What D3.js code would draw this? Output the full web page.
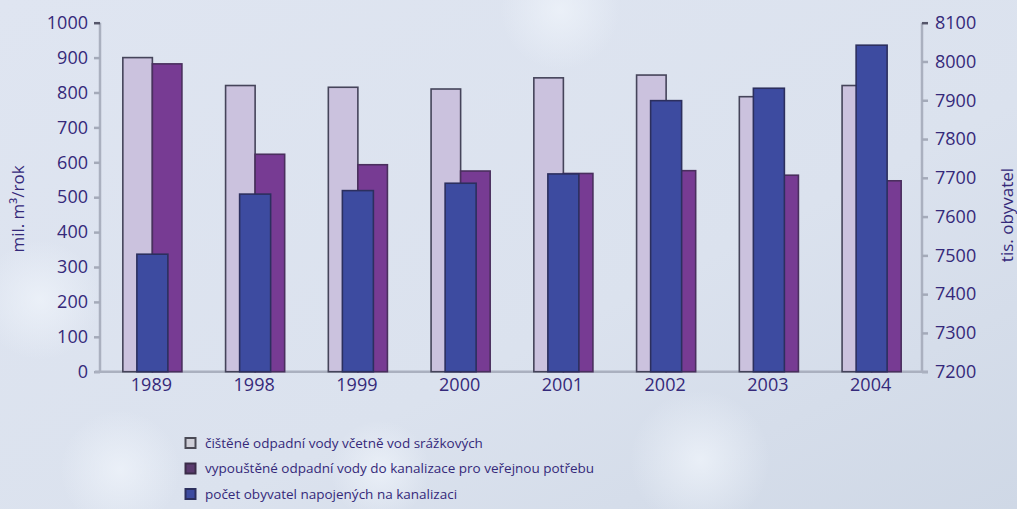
<!DOCTYPE html>
<html><head><meta charset="utf-8">
<script src="https://cdn.jsdelivr.net/npm/d3@7"></script>
<style>
html,body{margin:0;padding:0;overflow:hidden;}
svg{display:block;}
text{font-family:"Open Sans","DejaVu Sans",sans-serif;fill:#35297a;}
</style></head>
<body><svg id="c" width="1017" height="509"></svg>
<script>
const years = ["1989","1998","1999","2000","2001","2002","2003","2004"];
const cisteneVody = [900, 820, 815, 810, 842, 850, 788, 820];
const vypousteneVody = [882, 623, 593, 575, 568, 576, 563, 547];
const obyvatele = [7503, 7658, 7667, 7686, 7710, 7899, 7931, 8042];
const leftTicks = [0,100,200,300,400,500,600,700,800,900,1000];
const rightTicks = [7200,7300,7400,7500,7600,7700,7800,7900,8000,8100];
const legendLabels = [
  "čištěné odpadní vody včetně vod srážkových",
  "vypouštěné odpadní vody do kanalizace pro veřejnou potřebu",
  "počet obyvatel napojených na kanalizaci"
];
const colors = {light:"#cbc2de", purple:"#773b93", blue:"#3d4ba0", stroke:"#45445a"};

const svg = d3.select("#c");
// background
const defs = svg.append("defs");
const lg = defs.append("linearGradient").attr("id","bg").attr("x1",0).attr("y1",0).attr("x2",1).attr("y2",1);
lg.append("stop").attr("offset","0%").attr("stop-color","#dfe5f1");
lg.append("stop").attr("offset","60%").attr("stop-color","#dbe2ee");
lg.append("stop").attr("offset","100%").attr("stop-color","#cfd8e6");
const rg = defs.append("radialGradient").attr("id","blob");
rg.append("stop").attr("offset","0%").attr("stop-color","#eef3fa").attr("stop-opacity",0.8);
rg.append("stop").attr("offset","100%").attr("stop-color","#eef3fa").attr("stop-opacity",0);
svg.append("rect").attr("width",1017).attr("height",509).attr("fill","url(#bg)");
[[40,300,60],[560,10,60],[700,460,70],[380,470,50],[120,470,60]].forEach(b=>{
  svg.append("circle").attr("cx",b[0]).attr("cy",b[1]).attr("r",b[2]).attr("fill","url(#blob)");
});

const L = 100, R = 922, T = 22.7, B = 371.7;
const x0 = d3.scaleBand().domain(years).range([L,R]).paddingInner(0.425).paddingOuter(0.2125);
const x1 = d3.scaleBand().domain(["a","b"]).range([0, x0.bandwidth()]);
const yL = d3.scaleLinear().domain([0,1000]).range([B,T]);
const yR = d3.scaleLinear().domain([7200,8100]).range([B,T]);
const fmt = d3.format("d");

// axes
const axL = svg.append("g").attr("transform",`translate(${L},0)`)
  .call(d3.axisLeft(yL).tickValues(leftTicks).tickFormat(fmt).tickSize(6).tickPadding(6));
const axR = svg.append("g").attr("transform",`translate(${R},0)`)
  .call(d3.axisRight(yR).tickValues(rightTicks).tickFormat(fmt).tickSize(6).tickPadding(7));
[axL,axR].forEach(a=>{
  a.select(".domain").attr("stroke","#aab0bf").attr("stroke-width",2.5);
  a.selectAll(".tick line").attr("stroke","#a4aab9").attr("stroke-width",2.5);
  a.selectAll(".tick text").style("font-size","18px").attr("fill","#35297a");
});
axL.select(".domain").attr("d",`M0,${B}V${T}`);
axR.select(".domain").attr("d",`M0,${B}V${T}`);
axL.selectAll(".tick").filter(d=>d===1000).select("line").attr("stroke","#55566a");
axR.selectAll(".tick").filter(d=>d===8100).select("line").attr("stroke","#55566a");

const axB = svg.append("g").attr("transform",`translate(0,${B})`)
  .call(d3.axisBottom(x0).tickSize(0).tickPadding(7));
axB.select(".domain").attr("d",`M${L-5},0H${R+6}`).attr("stroke","#aab0bf").attr("stroke-width",2.5);
axB.selectAll(".tick text").style("font-size","18px").attr("fill","#35297a");

// bars
const g = svg.append("g");
const sw = 1.6;
g.selectAll(".light").data(years).join("rect")
  .attr("x",(d,i)=>x0(d)+x1("a")+1).attr("width",x1.bandwidth())
  .attr("y",(d,i)=>yL(cisteneVody[i])).attr("height",(d,i)=>B-yL(cisteneVody[i]))
  .attr("fill",colors.light).attr("stroke",colors.stroke).attr("stroke-width",sw);
g.selectAll(".purple").data(years).join("rect")
  .attr("x",(d,i)=>x0(d)+x1("b")+1).attr("width",x1.bandwidth())
  .attr("y",(d,i)=>yL(vypousteneVody[i])).attr("height",(d,i)=>B-yL(vypousteneVody[i]))
  .attr("fill",colors.purple).attr("stroke","#4a2f5e").attr("stroke-width",sw);
const bw = 31;
g.selectAll(".blue").data(years).join("rect")
  .attr("x",d=>x0(d)+x0.bandwidth()/2-bw/2+1).attr("width",bw)
  .attr("y",(d,i)=>yR(obyvatele[i])).attr("height",(d,i)=>B-yR(obyvatele[i]))
  .attr("fill",colors.blue).attr("stroke","#2c2f5e").attr("stroke-width",sw);

// axis titles
svg.append("text").attr("transform","translate(24,209) rotate(-90)")
  .attr("text-anchor","middle").style("font-size","17px")
  .text("mil. m³/rok");
svg.append("text").attr("transform","translate(1013,215) rotate(-90)")
  .attr("text-anchor","middle").style("font-size","17px")
  .text("tis. obyvatel");

// legend
const legColors = [["#cfcfd8","#4a4a55"],["#5a3a6e","#3a2c48"],["#3d4ba0","#2c2f5e"]];
const lgG = svg.append("g");
legendLabels.forEach((t,i)=>{
  const y = 443 + i*25.5;
  lgG.append("rect").attr("x",185.5).attr("y",y-5).attr("width",10).attr("height",10)
    .attr("fill",legColors[i][0]).attr("stroke",legColors[i][1]).attr("stroke-width",2);
  lgG.append("text").attr("x",205).attr("y",y).attr("dy","0.35em")
    .style("font-size","13.5px").text(t);
});
</script></body></html>
